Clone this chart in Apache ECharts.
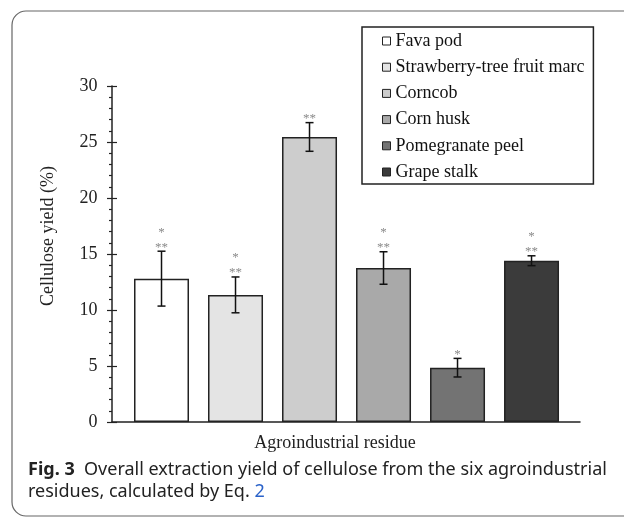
<!DOCTYPE html>
<html>
<head>
<meta charset="utf-8">
<script src="https://cdn.jsdelivr.net/npm/echarts@6/dist/echarts.min.js"></script>
<style>
  html, body { margin: 0; padding: 0; background: #fff; }
  #chart { width: 624px; height: 517px; }
</style>
</head>
<body>
<div id="chart"></div>
<script>
// residues, mean cellulose yield (%) and standard deviation
const categories = ["Fava pod", "Strawberry-tree fruit marc", "Corncob", "Corn husk", "Pomegranate peel", "Grape stalk"];
const yields = [12.8, 11.35, 25.45, 13.75, 4.85, 14.4];
const errors = [2.45, 1.6, 1.28, 1.45, 0.83, 0.44];
// significance marks above each bar, listed top to bottom
const marks = [["*", "**"], ["*", "**"], ["**"], ["*", "**"], ["*"], ["*", "**"]];
const barColors = ["#ffffff", "#e4e4e4", "#cdcdcd", "#a9a9a9", "#737373", "#3b3b3b"];
const yMin = 0, yMax = 30, yStep = 5;

const serif = '"Liberation Serif", "Times New Roman", serif';
const sans = '"Noto Sans", "Open Sans", sans-serif';

const dom = document.getElementById("chart");
const myChart = echarts.init(dom, null, { renderer: "canvas" });

const barSeries = categories.map((name, i) => ({
  type: "bar",
  name: name,
  data: [[i, yields[i]]],
  barWidth: 55,
  barGap: "-100%",
  silent: true,
  itemStyle: { color: barColors[i], borderColor: "#222", borderWidth: 1.5 },
}));

const errorSeries = {
  type: "custom",
  name: "error",
  silent: true,
  z: 5,
  data: yields.map((v, i) => [i, v - errors[i], v + errors[i]]),
  renderItem: function (params, api) {
    const x = api.value(0);
    const lo = api.coord([x, api.value(1)]);
    const hi = api.coord([x, api.value(2)]);
    const cap = 4;
    const st = { stroke: "#111", lineWidth: 1.5 };
    const children = [
      { type: "line", shape: { x1: lo[0], y1: lo[1], x2: hi[0], y2: hi[1] }, style: st },
      { type: "line", shape: { x1: hi[0] - cap, y1: hi[1], x2: hi[0] + cap, y2: hi[1] }, style: st },
      { type: "line", shape: { x1: lo[0] - cap, y1: lo[1], x2: lo[0] + cap, y2: lo[1] }, style: st },
    ];
    const m = marks[params.dataIndex];
    for (let k = 0; k < m.length; k++) {
      const fromBottom = m.length - 1 - k;
      children.push({
        type: "text",
        style: {
          text: m[k],
          x: hi[0],
          y: hi[1] - 4 - fromBottom * 15,
          align: "center",
          verticalAlign: "middle",
          fill: "#8a8a8a",
          font: "13px " + serif,
        },
      });
    }
    return { type: "group", children: children };
  },
};

const option = {
  animation: false,
  backgroundColor: "#fff",
  grid: { left: 112, right: 44, top: 86, bottom: 95 },
  legend: {
    orient: "vertical",
    left: 362,
    top: 27,
    padding: [5, 9, 3, 20],
    itemGap: 8.2,
    itemWidth: 8,
    itemHeight: 8,
    icon: "rect",
    borderColor: "#222",
    borderWidth: 1.5,
    data: categories,
    itemStyle: { borderColor: "#222", borderWidth: 1 },
    textStyle: { fontFamily: serif, fontSize: 18, color: "#111", lineHeight: 18 },
    selectedMode: false,
  },
  xAxis: {
    type: "value",
    min: -0.669,
    max: 5.655,
    axisLine: { show: true, onZero: false, lineStyle: { color: "#222", width: 1.5 } },
    axisTick: { show: false },
    axisLabel: { show: false },
    splitLine: { show: false },
  },
  yAxis: [
    {
      type: "value",
      min: yMin,
      max: yMax,
      interval: yStep,
      axisLine: { show: true, onZero: false, lineStyle: { color: "#222", width: 1.5 } },
      axisTick: { show: true, length: 5, lineStyle: { color: "#222", width: 1.2 } },
      minorTick: { show: true, splitNumber: 5, length: 3, lineStyle: { color: "#222", width: 1.2 } },
      axisLabel: { margin: 14.5, fontFamily: serif, fontSize: 18, color: "#222" },
      splitLine: { show: false },
    },
    {
      type: "value",
      position: "left",
      offset: 0,
      min: yMin,
      max: yMax,
      interval: yStep,
      axisLine: { show: false, onZero: false },
      axisTick: { show: true, inside: true, length: 5, lineStyle: { color: "#222", width: 1.2 } },
      axisLabel: { show: false },
      splitLine: { show: false },
    },
  ],
  graphic: [
    {
      type: "rect",
      shape: { x: 12, y: 11, width: 700, height: 505, r: 14 },
      style: { fill: "none", stroke: "#666", lineWidth: 1.2 },
      silent: true,
      z: -10,
    },
    {
      type: "text",
      x: 48,
      y: 236,
      rotation: Math.PI / 2,
      style: { text: "Cellulose yield (%)", align: "center", verticalAlign: "middle", font: "18px " + serif, fill: "#222" },
    },
    {
      type: "text",
      x: 335,
      y: 443,
      style: { text: "Agroindustrial residue", align: "center", verticalAlign: "middle", font: "18px " + serif, fill: "#222" },
    },
    {
      type: "text",
      x: 28,
      y: 470,
      style: {
        text: "{b|Fig. 3}  Overall extraction yield of cellulose from the six agroindustrial",
        verticalAlign: "middle",
        font: "18px " + sans,
        fill: "#222",
        rich: { b: { fontWeight: "bold", fontFamily: sans, fontSize: 18, fill: "#222" } },
      },
    },
    {
      type: "text",
      x: 28,
      y: 492,
      style: {
        text: "residues, calculated by Eq. {l|2}",
        verticalAlign: "middle",
        font: "18px " + sans,
        fill: "#222",
        rich: { l: { fontFamily: sans, fontSize: 18, fill: "#2a62c9" } },
      },
    },
  ],
  series: [...barSeries, errorSeries],
};

myChart.setOption(option);
</script>
</body>
</html>
